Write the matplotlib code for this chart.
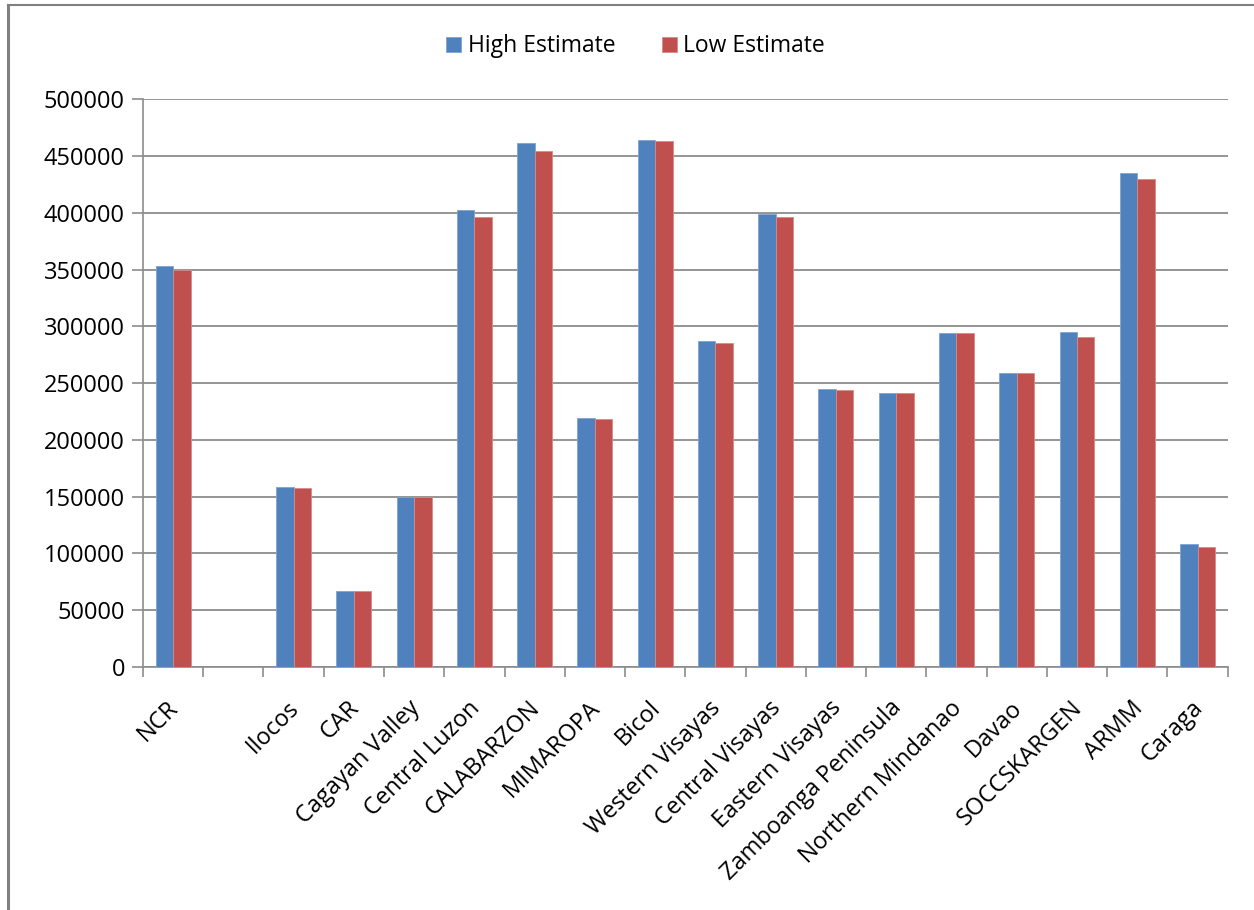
import matplotlib

matplotlib.use("Agg")
import matplotlib.pyplot as plt
import matplotlib.transforms as mtransforms
import numpy as np
from matplotlib.lines import Line2D

regions = [
    "NCR", "", "Ilocos", "CAR", "Cagayan Valley", "Central Luzon",
    "CALABARZON", "MIMAROPA", "Bicol", "Western Visayas", "Central Visayas",
    "Eastern Visayas", "Zamboanga Peninsula", "Northern Mindanao", "Davao",
    "SOCCSKARGEN", "ARMM", "Caraga",
]
high_estimate = [
    353000, np.nan, 158500, 67000, 150000, 402000,
    461000, 219000, 464000, 287000, 399000,
    245000, 241000, 294000, 259000,
    295000, 435000, 108000,
]
low_estimate = [
    349500, np.nan, 157500, 67000, 149500, 396000,
    454000, 218000, 463000, 285000, 396000,
    244000, 241000, 294000, 259000,
    291000, 430000, 106000,
]
yticks = list(range(0, 500001, 50000))

BLUE = "#4F81BD"
RED = "#C0504D"
GRID = "#8C8C8C"

plt.rcParams["font.family"] = ["Open Sans", "DejaVu Sans"]

fig = plt.figure(figsize=(12.54, 9.10), dpi=100)
ax = fig.add_axes([0.114, 0.267, 0.865, 0.624])

x = np.arange(len(regions))
w = 0.29
ax.bar(x - w / 2, high_estimate, w, color=BLUE, edgecolor="#7FA3D3",
       linewidth=0.6, label="High Estimate", zorder=3)
ax.bar(x + w / 2, low_estimate, w, color=RED, edgecolor="#D98A88",
       linewidth=0.6, label="Low Estimate", zorder=3)

ax.set_xlim(-0.5, len(regions) - 0.5)
ax.set_ylim(0, 500000)
ax.set_yticks(yticks)
ax.set_yticklabels([str(v) for v in yticks], fontsize=17)
ax.yaxis.grid(True, color=GRID, linewidth=1.3, zorder=0)
ax.tick_params(axis="y", length=8, width=1.2, color=GRID, pad=5)

# category labels centred, tick marks between categories
ax.set_xticks(x)
ax.set_xticklabels(regions, rotation=45, ha="right", va="center",
                   rotation_mode="anchor", fontsize=17)
ax.tick_params(axis="x", length=0, pad=27)
shift = mtransforms.ScaledTranslation(1.5 / 72, 0, fig.dpi_scale_trans)
for lbl in ax.get_xticklabels():
    lbl.set_transform(lbl.get_transform() + shift)
ax.set_xticks(np.arange(-0.5, len(regions)), minor=True)
ax.tick_params(axis="x", which="minor", length=7, width=1.2, color=GRID)

for side in ("top", "right"):
    ax.spines[side].set_visible(False)
ax.spines["left"].set_color(GRID)
ax.spines["bottom"].set_color(GRID)
ax.spines["left"].set_linewidth(1.2)
ax.spines["bottom"].set_linewidth(1.2)

fig.legend(loc="center", bbox_to_anchor=(0.507, 0.949), ncol=2, frameon=False,
           fontsize=16.5, handlelength=0.65, handleheight=0.65,
           handletextpad=0.3, columnspacing=2.0)

# outer frame of the pasted chart (left and top edges)
fig.add_artist(Line2D([8 / 1254, 8 / 1254], [0, 1 - 5 / 910],
                      transform=fig.transFigure, color="#808080", linewidth=2.2))
fig.add_artist(Line2D([8 / 1254, 1], [1 - 5 / 910, 1 - 5 / 910],
                      transform=fig.transFigure, color="#808080", linewidth=1.5))

fig.savefig("out.png", dpi=100)
